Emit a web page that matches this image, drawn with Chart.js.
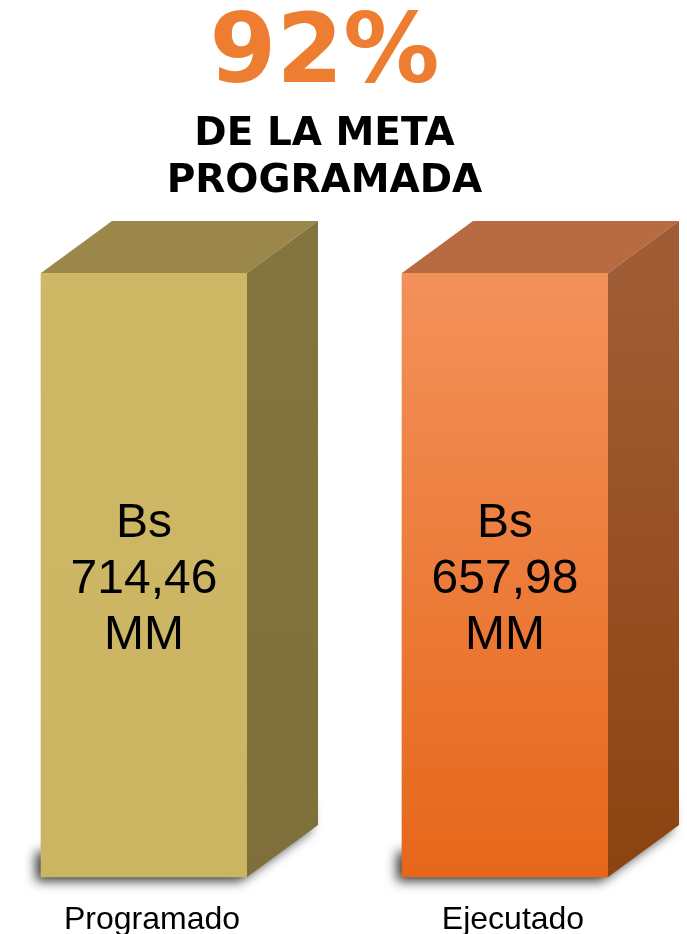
<!DOCTYPE html>
<html><head><meta charset="utf-8">
<script src="https://cdn.jsdelivr.net/npm/chart.js@4.4.1/dist/chart.umd.min.js"></script>
<style>html,body{margin:0;padding:0;background:#fff;}canvas{display:block;}</style>
</head><body>
<canvas id="c" width="687" height="934"></canvas>
<script>
// ---- data ----
const categories = ['Programado', 'Ejecutado'];
const amounts = [714.46, 657.98];          // Bs MM shown inside each bar
const barLevels = [100, 100];              // both bars are drawn at the same height in the reference
const currencyPrefix = 'Bs';
const unitSuffix = 'MM';
const subtitleLines = ['DE LA META', 'PROGRAMADA'];

const percentText = Math.round(amounts[1] / amounts[0] * 100) + '%';
const fmt = v => v.toFixed(2).replace('.', ',');

// ---- styling ----
const DEPTH_X = 71, DEPTH_Y = 52;
const faceStyles = [
  { front: ['#CEB866', '#CBB562'], top: '#9A8749', side: ['#84743E', '#7F6F3A'] },
  { front: ['#F3915B', '#E6671A'], top: '#B86A40', side: ['#A05C34', '#8C4311'] }
];

function frontColor(ctx) {
  const chart = ctx.chart, area = chart.chartArea;
  const st = faceStyles[ctx.dataIndex] || faceStyles[0];
  if (!area) return st.front[0];
  const g = chart.ctx.createLinearGradient(0, area.top, 0, area.bottom);
  g.addColorStop(0, st.front[0]);
  g.addColorStop(1, st.front[1]);
  return g;
}

const cubePlugin = {
  id: 'cube',
  beforeDatasetsDraw(chart) {
    const ctx = chart.ctx;
    chart.getDatasetMeta(0).data.forEach(el => {
      const p = el.getProps(['x', 'y', 'base', 'width'], true);
      const l = p.x - p.width / 2, r = p.x + p.width / 2, b = p.base;
      ctx.save();
      ctx.shadowColor = 'rgba(0,0,0,0.8)';
      ctx.shadowBlur = 12;
      ctx.shadowOffsetX = -7;
      ctx.shadowOffsetY = 5;
      ctx.fillStyle = '#333';
      ctx.beginPath();
      ctx.moveTo(l + 2, b - 30);
      ctx.lineTo(l + 2, b - 1);
      ctx.lineTo(r, b - 1);
      ctx.lineTo(r + DEPTH_X - 1, b - DEPTH_Y);
      ctx.lineTo(r + DEPTH_X - 1, b - DEPTH_Y - 30);
      ctx.lineTo(r, b - 30);
      ctx.closePath();
      ctx.fill();
      ctx.restore();
    });
  },
  afterDatasetsDraw(chart) {
    const ctx = chart.ctx;
    chart.getDatasetMeta(0).data.forEach((el, i) => {
      const st = faceStyles[i];
      const p = el.getProps(['x', 'y', 'base', 'width'], true);
      const l = p.x - p.width / 2, r = p.x + p.width / 2, t = p.y, b = p.base;
      ctx.save();
      // top face
      ctx.fillStyle = st.top;
      ctx.beginPath();
      ctx.moveTo(l, t);
      ctx.lineTo(l + DEPTH_X, t - DEPTH_Y);
      ctx.lineTo(r + DEPTH_X, t - DEPTH_Y);
      ctx.lineTo(r, t);
      ctx.closePath();
      ctx.fill();
      // side face
      const g = ctx.createLinearGradient(0, t, 0, b);
      g.addColorStop(0, st.side[0]);
      g.addColorStop(1, st.side[1]);
      ctx.fillStyle = g;
      ctx.beginPath();
      ctx.moveTo(r, t);
      ctx.lineTo(r + DEPTH_X, t - DEPTH_Y);
      ctx.lineTo(r + DEPTH_X, b - DEPTH_Y);
      ctx.lineTo(r, b);
      ctx.closePath();
      ctx.fill();
      // value text
      const mid = (t + b) / 2;
      ctx.fillStyle = '#000';
      ctx.font = '48px "Liberation Sans", Arial, sans-serif';
      ctx.textAlign = 'center';
      ctx.textBaseline = 'alphabetic';
      ctx.fillText(currencyPrefix, p.x, mid - 38);
      ctx.fillText(fmt(amounts[i]), p.x, mid + 18);
      ctx.fillText(unitSuffix, p.x, mid + 74);
      ctx.restore();
    });
  }
};

new Chart(document.getElementById('c'), {
  type: 'bar',
  data: {
    labels: categories,
    datasets: [{
      data: barLevels,
      backgroundColor: frontColor,
      borderWidth: 0,
      barThickness: 206,
      clip: false
    }]
  },
  options: {
    responsive: false,
    animation: false,
    devicePixelRatio: 1,
    layout: { padding: { left: 144, right: 182, top: 0, bottom: 0 } },
    plugins: {
      legend: { display: false },
      tooltip: { enabled: false },
      title: {
        display: true,
        text: percentText,
        color: '#ED7D31',
        font: { family: '"DejaVu Sans", sans-serif', weight: 'bold', size: 96, lineHeight: 0.8 },
        padding: { top: 19, bottom: 0 }
      },
      subtitle: {
        display: true,
        text: subtitleLines,
        color: '#000',
        font: { family: '"DejaVu Sans", sans-serif', weight: 'bold', size: 39, lineHeight: 47 / 39 },
        padding: { top: 15.7, bottom: 67.5 }
      }
    },
    scales: {
      x: {
        type: 'category',
        offset: false,
        grid: { display: false, drawTicks: false },
        border: { display: false },
        afterFit(scale) { scale.height = 57; },
        ticks: {
          color: '#000',
          autoSkip: false,
          maxRotation: 0,
          padding: 26,
          labelOffset: 8,
          font: { family: '"Liberation Sans", Arial, sans-serif', size: 32, lineHeight: 34 / 32 }
        }
      },
      y: { display: false, min: 0, max: 100 }
    }
  },
  plugins: [cubePlugin]
});
</script>
</body></html>
